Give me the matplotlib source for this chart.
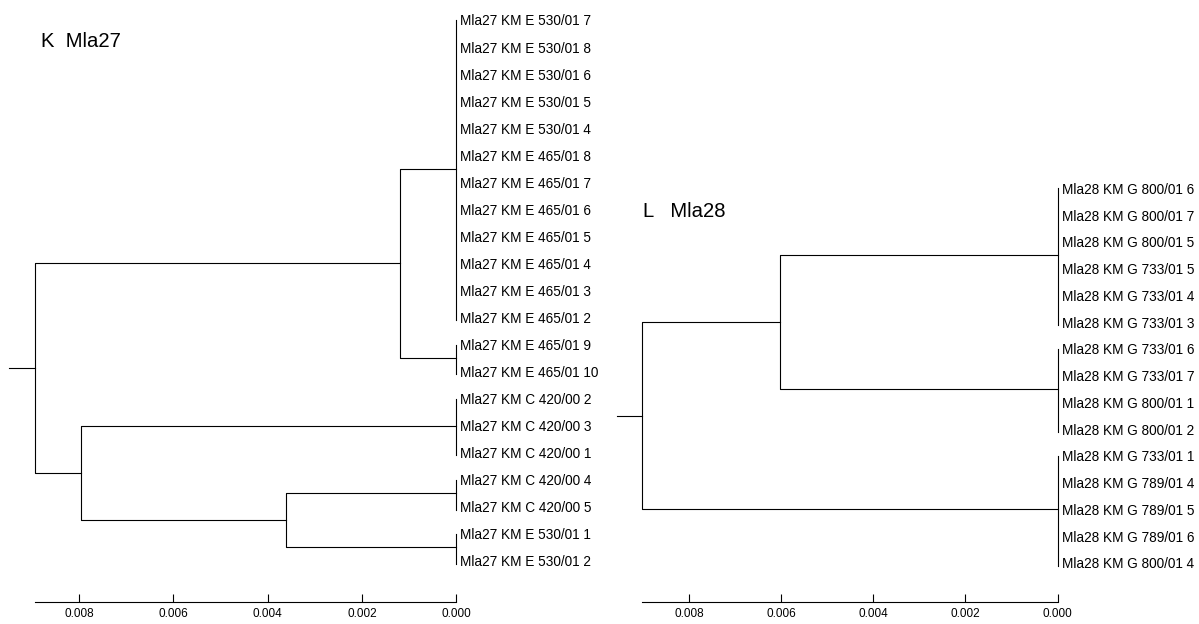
import numpy as np
import matplotlib
matplotlib.use("Agg")
import matplotlib.pyplot as plt

plt.rcParams['font.family'] = ['Liberation Sans', 'DejaVu Sans']

# tree K (Mla27): leaves top to bottom, leaf groups at distance 0, merges (a, b, height)
k_labels = [
    "Mla27 KM E 530/01 7", "Mla27 KM E 530/01 8", "Mla27 KM E 530/01 6",
    "Mla27 KM E 530/01 5", "Mla27 KM E 530/01 4",
    "Mla27 KM E 465/01 8", "Mla27 KM E 465/01 7", "Mla27 KM E 465/01 6",
    "Mla27 KM E 465/01 5", "Mla27 KM E 465/01 4", "Mla27 KM E 465/01 3",
    "Mla27 KM E 465/01 2",
    "Mla27 KM E 465/01 9", "Mla27 KM E 465/01 10",
    "Mla27 KM C 420/00 2", "Mla27 KM C 420/00 3", "Mla27 KM C 420/00 1",
    "Mla27 KM C 420/00 4", "Mla27 KM C 420/00 5",
    "Mla27 KM E 530/01 1", "Mla27 KM E 530/01 2",
]
k_groups = [12, 2, 3, 2, 2]
k_merges = [(0, 1, 0.00119), (3, 4, 0.00362), (2, 6, 0.00797), (5, 7, 0.00893)]
k_stub = 0.00056

# tree L (Mla28)
l_labels = [
    "Mla28 KM G 800/01 6", "Mla28 KM G 800/01 7", "Mla28 KM G 800/01 5",
    "Mla28 KM G 733/01 5", "Mla28 KM G 733/01 4", "Mla28 KM G 733/01 3",
    "Mla28 KM G 733/01 6", "Mla28 KM G 733/01 7", "Mla28 KM G 800/01 1",
    "Mla28 KM G 800/01 2",
    "Mla28 KM G 733/01 1", "Mla28 KM G 789/01 4", "Mla28 KM G 789/01 5",
    "Mla28 KM G 789/01 6", "Mla28 KM G 800/01 4",
]
l_groups = [6, 4, 5]
l_merges = [(0, 1, 0.00603), (3, 2, 0.00901)]
l_stub = 0.00055

scale_ticks = [0.008, 0.006, 0.004, 0.002, 0.000]
scale_labels = ["0.008", "0.006", "0.004", "0.002", "0.000"]

LW = 0.8


def draw_tree(ax, labels, groups, merges, stub, axis_y):
    pos = []
    hts = []
    start = 0
    for n in groups:
        ys = np.arange(start, start + n)
        ax.plot([0, 0], [ys[0], ys[-1] + 0.1], color='k', lw=LW)
        pos.append(ys.mean())
        hts.append(0.0)
        start += n
    for a, b, h in merges:
        ax.plot([hts[a], h, h, hts[b]], [pos[a], pos[a], pos[b], pos[b]],
                color='k', lw=LW)
        pos.append((pos[a] + pos[b]) / 2)
        hts.append(h)
    root = hts[-1]
    ax.plot([root, root + stub], [pos[-1], pos[-1]], color='k', lw=LW)

    for i, lab in enumerate(labels):
        ax.annotate(lab, (0, i), xytext=(4, 0), textcoords='offset pixels',
                    ha='left', va='center_baseline', fontsize=9.8)

    for s in ['top', 'left', 'right']:
        ax.spines[s].set_visible(False)
    ax.spines['bottom'].set_position(('data', axis_y))
    ax.spines['bottom'].set_bounds(0, root)
    ax.spines['bottom'].set_linewidth(LW)
    ax.set_yticks([])
    ax.set_xticks(scale_ticks)
    ax.set_xticklabels(scale_labels)
    ax.tick_params(axis='x', direction='in', length=6, width=LW,
                   labelsize=8.5, pad=4)
    ax.patch.set_visible(False)


fig = plt.figure(figsize=(11.99, 6.24), dpi=100)

axk = fig.add_axes([0, 0, 0.5, 1])
axk.set_xlim(0.009681, -0.003041)
axk.set_ylim(22.33, -0.739)
draw_tree(axk, k_labels, k_groups, k_merges, k_stub, 21.52)

axl = fig.add_axes([0.5, 0, 0.5, 1])
axl.set_xlim(0.009939, -0.003065)
axl.set_ylim(16.28, -7.037)
draw_tree(axl, l_labels, l_groups, l_merges, l_stub, 15.46)

fig.text(41 / 1199, 1 - 47 / 624, "K  Mla27", fontsize=14.6, va='baseline')
fig.text(643 / 1199, 1 - 217 / 624, "L   Mla28", fontsize=14.6, va='baseline')

fig.savefig("out.png", dpi=100)
